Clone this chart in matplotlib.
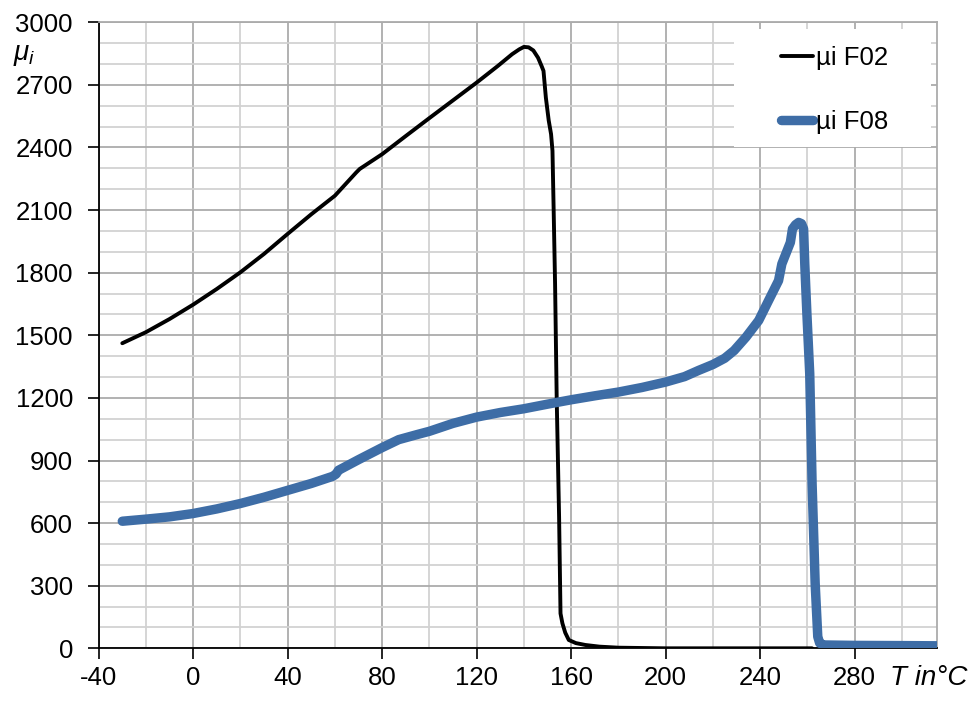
import numpy as np
import matplotlib
matplotlib.use("Agg")
import matplotlib.pyplot as plt
from matplotlib.patches import Rectangle
from matplotlib.ticker import MultipleLocator

plt.rcParams['font.family'] = ['Liberation Sans', 'DejaVu Sans']
plt.rcParams['mathtext.fontset'] = 'custom'
plt.rcParams['mathtext.it'] = 'Liberation Sans:italic'
plt.rcParams['mathtext.rm'] = 'Liberation Sans'
plt.rcParams['axes.unicode_minus'] = False

# temperature / permeability
t_f02 = [-30, -20, -10, 0, 10, 20, 30, 40, 50, 60, 69, 70.5, 80, 90, 100, 110, 120,
         129, 135, 138, 140, 142, 144, 146, 147.5, 148.3, 149.3, 150.5, 151.5, 152.1,
         152.6, 153.2, 153.9, 154.9, 155.5, 156.3, 157.5, 159, 162, 166, 172, 180,
         200, 240, 262]
mu_f02 = [1462, 1515, 1578, 1647, 1722, 1802, 1890, 1986, 2080, 2169, 2280, 2297,
          2368, 2455, 2541, 2626, 2711, 2791, 2847, 2870, 2882, 2880, 2865, 2830,
          2790, 2767, 2639, 2530, 2464, 2384, 2100, 1746, 1188, 630, 167, 120, 75,
          40, 25, 16, 8, 3, 0, 0, 0]

t_f08 = [-30, -20, -10, 0, 10, 20, 30, 40, 50, 59, 60.5, 61.5, 70, 80, 87, 95, 100,
         110, 120, 130, 140, 150, 160, 170, 180, 190, 200, 208, 214, 220, 225, 229,
         234, 239.4, 243.6, 247.8, 249.2, 252.8, 253.7, 255, 256.3, 257.5, 258.4,
         258.9, 259.8, 261, 262, 263.3, 264.4, 265.2, 266.8, 280, 300, 315]
mu_f08 = [609, 619, 630, 646, 668, 694, 724, 757, 790, 824, 835, 853, 904, 962, 1000,
          1025, 1040, 1078, 1108, 1130, 1148, 1170, 1191, 1210, 1228, 1250, 1276, 1302,
          1332, 1360, 1390, 1427, 1491, 1571, 1667, 1762, 1842, 1945, 2010, 2030, 2041,
          2035, 2010, 1842, 1603, 1316, 789, 311, 56, 25, 16, 14, 13, 12]

fig = plt.figure(figsize=(9.79, 7.05), dpi=100)
ax = fig.add_axes([0.1008, 0.0804, 0.8566, 0.888])

ax.plot(t_f02, mu_f02, color='black', lw=2.8, label='µi F02',
        solid_capstyle='round', solid_joinstyle='round', zorder=3)
ax.plot(t_f08, mu_f08, color='#3e6da6', lw=6.8, label='µi F08',
        solid_capstyle='round', solid_joinstyle='round', zorder=4)

ax.set_xlim(-40, 315)
ax.set_ylim(0, 3000)
ax.xaxis.set_major_locator(MultipleLocator(40))
ax.xaxis.set_minor_locator(MultipleLocator(20))
ax.yaxis.set_major_locator(MultipleLocator(300))
ax.yaxis.set_minor_locator(MultipleLocator(100))

ax.set_axisbelow(True)
ax.grid(which='major', color='#ababab', lw=1.3)
ax.grid(which='minor', color='#d2d2d2', lw=1.3)
ax.tick_params(which='major', direction='out', length=8, width=1.2, color='black',
               labelsize=18.5, pad=5)
ax.tick_params(axis='y', which='major', pad=10.5)
ax.tick_params(which='minor', length=0)

for s in ['top', 'right']:
    ax.spines[s].set_color('#ababab')
    ax.spines[s].set_linewidth(1.3)
for s in ['left', 'bottom']:
    ax.spines[s].set_color('black')
    ax.spines[s].set_linewidth(1.3)

# white legend panel
ax.add_patch(Rectangle((229, 2400), 83.5, 568, facecolor='white', edgecolor='none', zorder=1))
ax.legend(loc='upper left', bbox_to_anchor=(0.8136, 0.962), frameon=False, fontsize=18.5,
          borderpad=0, borderaxespad=0, handlelength=1.25, handletextpad=0.12,
          labelspacing=1.55)

fig.text(24 / 979, 1 - 55 / 705, r'$\mu_i$', fontsize=20, ha='center', va='center')
fig.text(929 / 979, 1 - 678 / 705, 'T in°C', fontsize=20, style='italic',
         ha='center', va='center')

fig.savefig('out.png', dpi=100)
